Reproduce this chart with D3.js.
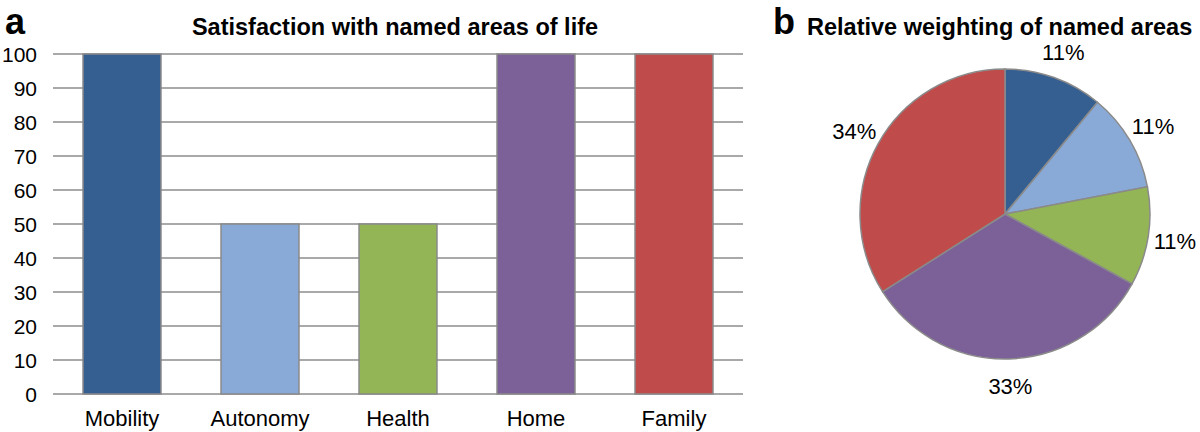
<!DOCTYPE html>
<html>
<head>
<meta charset="utf-8">
<script src="https://cdn.jsdelivr.net/npm/d3@7"></script>
<style>
  body { margin: 0; background: #fff; }
  svg text { font-family: "Liberation Sans", Arial, Helvetica, sans-serif; fill: #000; }
</style>
</head>
<body>
<svg id="chart" width="1200" height="432"></svg>
<script>
// bar data
const categories = ["Mobility", "Autonomy", "Health", "Home", "Family"];
const satisfaction = [100, 50, 50, 100, 100];
const yTicks = [0, 10, 20, 30, 40, 50, 60, 70, 80, 90, 100];
const colors = ["#355f91", "#89a9d7", "#93b555", "#7b6198", "#c04b4b"];

// pie data
const weights = [11, 11, 11, 33, 34];
const weightLabels = ["11%", "11%", "11%", "33%", "34%"];

const svg = d3.select("#chart");

// ---- panel a ----
const x = d3.scaleBand().domain(categories).range([53, 743]).paddingInner(0.435).paddingOuter(0.2175);
const y = d3.scaleLinear().domain([0, 100]).range([394, 54]);

const gA = svg.append("g");

gA.selectAll("line.grid")
  .data(yTicks)
  .enter().append("line")
  .attr("class", "grid")
  .attr("x1", 53).attr("x2", 743)
  .attr("y1", d => y(d)).attr("y2", d => y(d))
  .attr("stroke", "#8c8c8c").attr("stroke-width", 1.5);

gA.selectAll("text.ytick")
  .data(yTicks)
  .enter().append("text")
  .attr("class", "ytick")
  .attr("x", 37).attr("y", d => y(d))
  .attr("dy", "0.36em")
  .attr("text-anchor", "end")
  .style("font-size", "21px")
  .text(d => d);

gA.selectAll("rect")
  .data(satisfaction)
  .enter().append("rect")
  .attr("x", (d, i) => x(categories[i]))
  .attr("y", d => y(d))
  .attr("width", x.bandwidth())
  .attr("height", d => y(0) - y(d))
  .attr("fill", (d, i) => colors[i])
  .attr("stroke", "#8a8a8a").attr("stroke-width", 1.5);

gA.selectAll("text.xlab")
  .data(categories)
  .enter().append("text")
  .attr("class", "xlab")
  .attr("x", d => x(d) + x.bandwidth() / 2)
  .attr("y", 426)
  .attr("text-anchor", "middle")
  .style("font-size", "22px")
  .text(d => d);

gA.append("text")
  .attr("x", 395).attr("y", 35)
  .attr("text-anchor", "middle")
  .style("font-size", "23.5px").style("font-weight", "bold")
  .text("Satisfaction with named areas of life");

svg.append("text")
  .attr("x", 5).attr("y", 34)
  .style("font-size", "36px").style("font-weight", "bold")
  .text("a");

// ---- panel b ----
const cx = 1005, cy = 214, r = 145;
const pie = d3.pie().sort(null)(weights);
const arc = d3.arc().innerRadius(0).outerRadius(r);

const gB = svg.append("g").attr("transform", `translate(${cx},${cy})`);

gB.selectAll("path")
  .data(pie)
  .enter().append("path")
  .attr("d", arc)
  .attr("fill", (d, i) => colors[i])
  .attr("stroke", "#8a8a8a").attr("stroke-width", 1.5);

const labelArc = d3.arc().innerRadius(r + 27).outerRadius(r + 27);
gB.selectAll("text")
  .data(pie)
  .enter().append("text")
  .attr("transform", d => `translate(${labelArc.centroid(d)})`)
  .attr("dy", "0.36em")
  .attr("text-anchor", "middle")
  .style("font-size", "22px")
  .text((d, i) => weightLabels[i]);

svg.append("text")
  .attr("x", 773).attr("y", 34)
  .style("font-size", "36px").style("font-weight", "bold")
  .text("b");

svg.append("text")
  .attr("x", 807).attr("y", 35)
  .style("font-size", "23.5px").style("font-weight", "bold")
  .text("Relative weighting of named areas");
</script>
</body>
</html>
